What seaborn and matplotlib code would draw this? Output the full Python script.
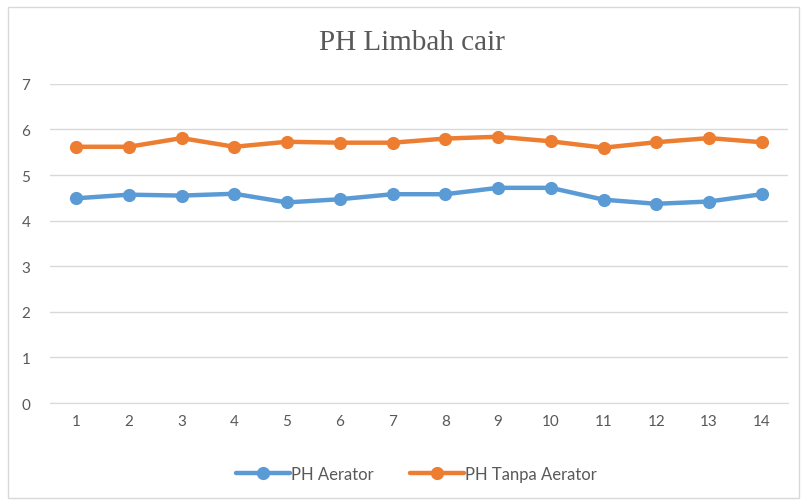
import matplotlib.pyplot as plt
import matplotlib.patches as mpatches
import numpy as np
import pandas as pd
import seaborn as sns

sns.set_style("white")
plt.rcParams['font.family'] = ['Lato', 'DejaVu Sans']

days = list(range(1, 15))
ph_aerator = [4.49, 4.57, 4.55, 4.59, 4.40, 4.47, 4.58, 4.58, 4.72, 4.72, 4.46, 4.37, 4.42, 4.58]
ph_tanpa = [5.62, 5.62, 5.81, 5.62, 5.73, 5.71, 5.71, 5.80, 5.84, 5.74, 5.60, 5.72, 5.81, 5.72]
series_names = ['PH Aerator', 'PH Tanpa Aerator']
colors = ['#5B9BD5', '#ED7D31']

df = pd.DataFrame({
    'hari': [str(d) for d in days] * 2,
    'ph': ph_aerator + ph_tanpa,
    'seri': [series_names[0]] * len(days) + [series_names[1]] * len(days),
})

fig = plt.figure(figsize=(8.01, 5.02), dpi=100)
ax = fig.add_axes([0.062, 0.195, 0.922, 0.636])

sns.lineplot(data=df, x='hari', y='ph', hue='seri', palette=colors, marker='o',
             markersize=9.5, markeredgewidth=0, linewidth=3.2, sort=False, ax=ax)

ax.set_ylim(0, 7)
ax.set_yticks(range(0, 8))
ax.set_xlim(-0.5, len(days) - 0.5)
ax.grid(axis='y', color='#D9D9D9', linewidth=1)
ax.set_axisbelow(True)
for s in ['top', 'right', 'left']:
    ax.spines[s].set_visible(False)
ax.spines['bottom'].set_color('#D9D9D9')
ax.tick_params(axis='both', length=0, labelsize=11, colors='#595959', pad=8)
ax.tick_params(axis='y', pad=14)
ax.set_xlabel('')
ax.set_ylabel('')

fig.text(0.514, 0.915, 'PH Limbah cair', family='Liberation Serif', fontsize=21,
         color='#595959', ha='center', va='center')

handles, labels = ax.get_legend_handles_labels()
ax.legend(handles, labels, loc='upper center', bbox_to_anchor=(0.497, -0.15), ncol=2,
          frameon=False, fontsize=12, labelcolor='#595959', handlelength=3.2,
          handletextpad=0.1, columnspacing=2.2)

fig.patches.append(mpatches.Rectangle((0.01, 0.005), 0.988, 0.98, transform=fig.transFigure,
                                      fill=False, edgecolor='#D9D9D9', linewidth=1))

fig.savefig('out.png', dpi=100)
